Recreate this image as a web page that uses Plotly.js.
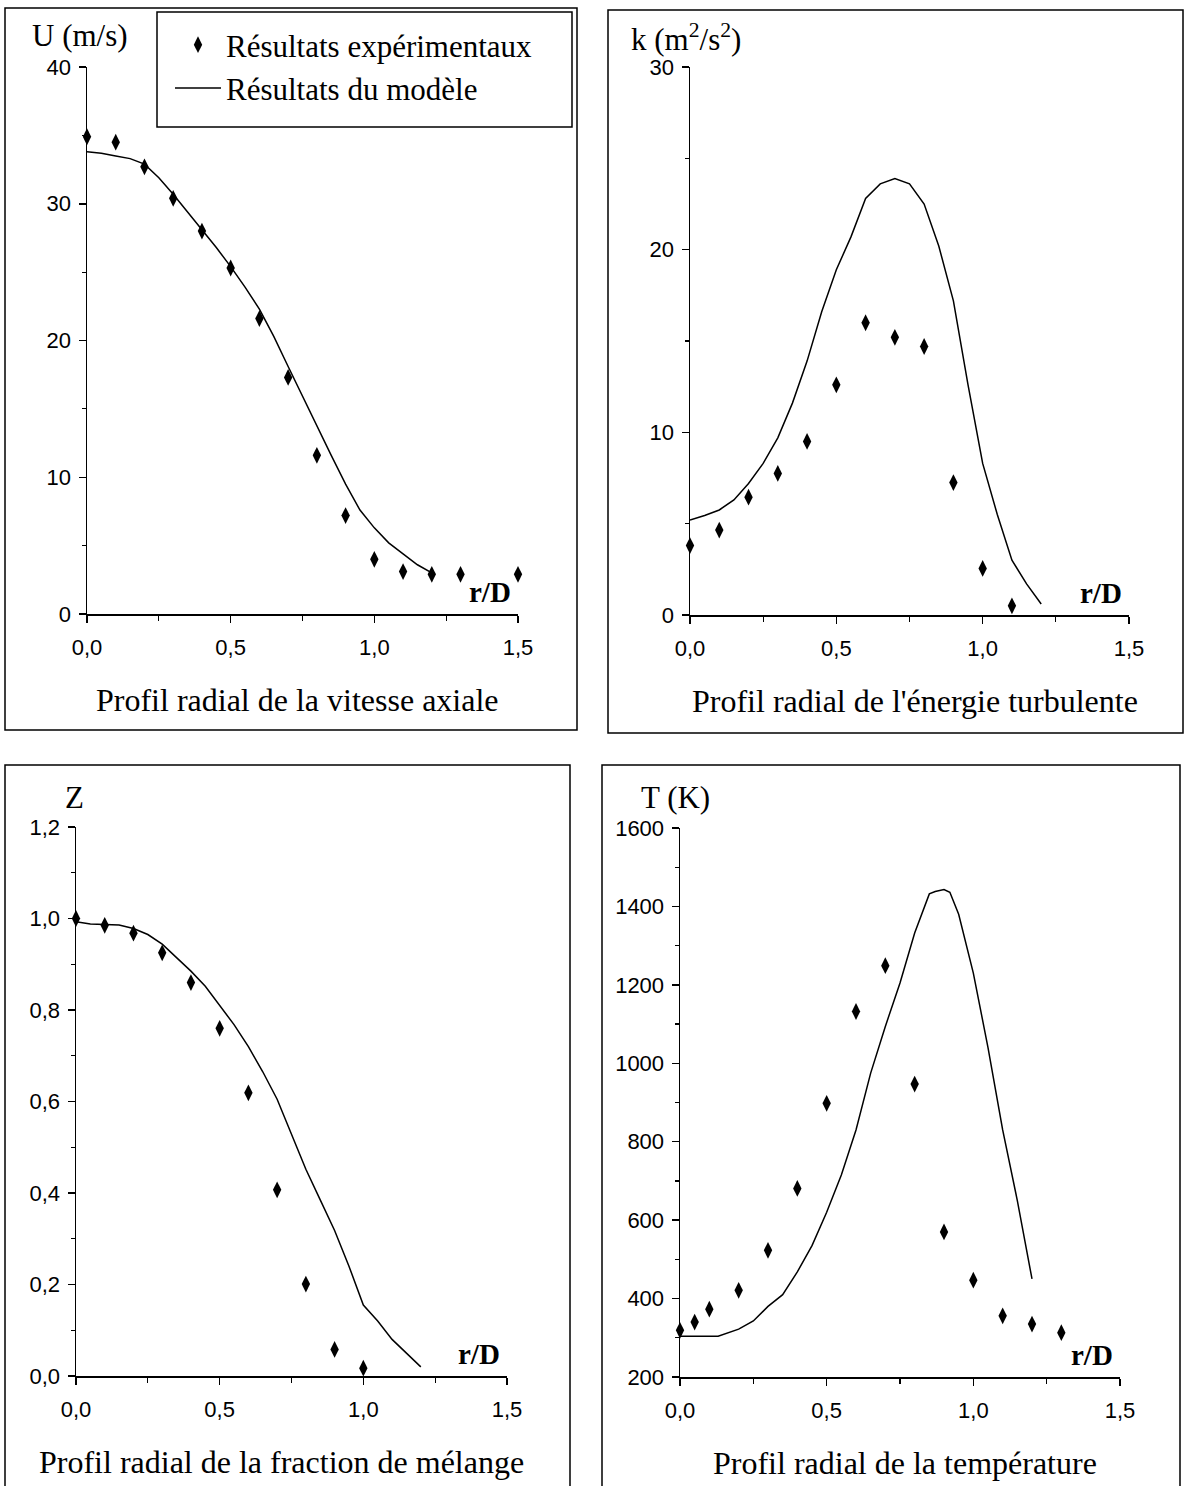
<!DOCTYPE html>
<html><head><meta charset="utf-8">
<script src="https://cdn.plot.ly/plotly-3.0.1.min.js"></script>
<style>html,body{margin:0;padding:0;background:#fff}</style>
</head><body><div id="chart" style="width:1187px;height:1486px"></div>
<script>
// ---- Data ----
const uExpR = [0, 0.1, 0.2, 0.3, 0.4, 0.5, 0.6, 0.7, 0.8, 0.9, 1.0, 1.1, 1.2, 1.3, 1.5];
const uExp  = [34.9, 34.5, 32.7, 30.4, 28.0, 25.3, 21.6, 17.3, 11.6, 7.2, 4.0, 3.1, 2.9, 2.9, 2.9];
const uModR = [0, 0.05, 0.1, 0.15, 0.2, 0.25, 0.3, 0.35, 0.4, 0.45, 0.5, 0.55, 0.6, 0.65, 0.7, 0.75, 0.8, 0.85, 0.9, 0.95, 1.0, 1.05, 1.1, 1.15, 1.2];
const uMod  = [33.8, 33.7, 33.5, 33.3, 32.9, 31.9, 30.7, 29.4, 28.1, 26.8, 25.4, 23.9, 22.3, 20.3, 18.1, 15.9, 13.7, 11.6, 9.5, 7.6, 6.3, 5.2, 4.4, 3.6, 3.0];

const kExpR = [0, 0.1, 0.2, 0.3, 0.4, 0.5, 0.6, 0.7, 0.8, 0.9, 1.0, 1.1];
const kExp  = [3.8, 4.65, 6.45, 7.75, 9.5, 12.6, 16.0, 15.2, 14.7, 7.25, 2.55, 0.5];
const kModR = [0, 0.05, 0.1, 0.15, 0.2, 0.25, 0.3, 0.35, 0.4, 0.45, 0.5, 0.55, 0.6, 0.65, 0.7, 0.75, 0.8, 0.85, 0.9, 0.95, 1.0, 1.05, 1.1, 1.15, 1.2];
const kMod  = [5.2, 5.45, 5.75, 6.3, 7.2, 8.3, 9.7, 11.6, 13.9, 16.6, 18.9, 20.7, 22.8, 23.6, 23.9, 23.6, 22.5, 20.2, 17.2, 12.6, 8.3, 5.5, 3.0, 1.7, 0.6];

const zExpR = [0, 0.1, 0.2, 0.3, 0.4, 0.5, 0.6, 0.7, 0.8, 0.9, 1.0];
const zExp  = [1.0, 0.985, 0.968, 0.925, 0.86, 0.76, 0.619, 0.407, 0.201, 0.058, 0.017];
const zModR = [0, 0.05, 0.1, 0.15, 0.2, 0.25, 0.3, 0.35, 0.4, 0.45, 0.5, 0.55, 0.6, 0.65, 0.7, 0.75, 0.8, 0.85, 0.9, 0.95, 1.0, 1.05, 1.1, 1.15, 1.2];
const zMod  = [0.993, 0.988, 0.987, 0.986, 0.978, 0.965, 0.944, 0.915, 0.885, 0.852, 0.81, 0.768, 0.72, 0.665, 0.605, 0.53, 0.452, 0.385, 0.318, 0.24, 0.155, 0.12, 0.08, 0.05, 0.02];

const tExpR = [0, 0.05, 0.1, 0.2, 0.3, 0.4, 0.5, 0.6, 0.7, 0.8, 0.9, 1.0, 1.1, 1.2, 1.3];
const tExp  = [319, 340, 373, 421, 523, 681, 898, 1132, 1249, 947, 570, 447, 356, 335, 313];
const tModR = [0, 0.05, 0.1, 0.13, 0.2, 0.25, 0.3, 0.35, 0.4, 0.45, 0.5, 0.55, 0.6, 0.65, 0.7, 0.75, 0.8, 0.83, 0.85, 0.87, 0.9, 0.92, 0.95, 1.0, 1.05, 1.1, 1.15, 1.2];
const tMod  = [304, 304, 304, 304, 322, 343, 380, 410, 468, 535, 620, 715, 830, 975, 1094, 1205, 1332, 1390, 1432, 1438, 1443, 1436, 1380, 1230, 1040, 830, 650, 450];

const xTickVals = [0, 0.5, 1.0, 1.5];
const xTickText = ['0,0', '0,5', '1,0', '1,5'];
const panelTitles = ['Profil radial de la vitesse axiale', "Profil radial de l'énergie turbulente", 'Profil radial de la fraction de mélange', 'Profil radial de la température'];
const yLabels = ['U (m/s)', 'k (m<sup>2</sup>/s<sup>2</sup>)', 'Z', 'T (K)'];
const legendNames = ['Résultats expérimentaux', 'Résultats du modèle'];

// ---- Layout helpers ----
const W = 1187, H = 1486;
const px = x => x / W;
const py = y => 1 - y / H;
const SERIF = 'Liberation Serif, Times New Roman, serif';
const SANS = 'Liberation Sans, Arial, sans-serif';

const panels = [
  {x0: 87, x1: 518, yb: 614, yt: 67, yr: [0, 40], yd: 10, ym: 5, fmt: 'd', box: [5, 577, 8, 730], tc: 298, lc: 80, ly: 36},
  {x0: 690, x1: 1129, yb: 615, yt: 67, yr: [0, 30], yd: 10, ym: 5, fmt: 'd', box: [608, 1183, 10, 733], tc: 915, lc: 686, ly: 38},
  {x0: 76, x1: 507, yb: 1376, yt: 827, yr: [0, 1.2], yd: 0.2, ym: 0.1, fmt: '.1f', box: [5, 570, 765, 1495], tc: 281, lc: 74, ly: 797},
  {x0: 680, x1: 1120, yb: 1377, yt: 828, yr: [200, 1600], yd: 200, ym: 100, fmt: 'd', box: [602, 1180, 765, 1495], tc: 905, lc: 675, ly: 797}
];

const series = [
  [uExpR, uExp, uModR, uMod],
  [kExpR, kExp, kModR, kMod],
  [zExpR, zExp, zModR, zMod],
  [tExpR, tExp, tModR, tMod]
];

const data = [];
const layout = {
  width: W, height: H,
  margin: {l: 0, r: 0, t: 0, b: 0},
  paper_bgcolor: '#fff', plot_bgcolor: 'rgba(0,0,0,0)',
  separators: ', ',
  showlegend: true,
  legend: {
    x: px(170), y: py(18), xanchor: 'left', yanchor: 'top',
    bgcolor: 'rgba(0,0,0,0)', borderwidth: 0,
    font: {family: SERIF, size: 31, color: '#000'},
    tracegroupgap: 0, itemwidth: 46
  },
  shapes: [], annotations: []
};

panels.forEach((p, i) => {
  const n = i + 1;
  const xa = 'x' + (n === 1 ? '' : n), ya = 'y' + (n === 1 ? '' : n);
  const s = series[i];
  data.push({
    x: s[0], y: s[1], xaxis: xa, yaxis: ya, type: 'scatter', mode: 'markers',
    name: legendNames[0], showlegend: i === 0, cliponaxis: false,
    marker: {symbol: 'diamond-tall', size: 12, color: '#000'}
  });
  data.push({
    x: s[2], y: s[3], xaxis: xa, yaxis: ya, type: 'scatter', mode: 'lines',
    name: legendNames[1], showlegend: i === 0, cliponaxis: false,
    line: {color: '#000', width: 1.5}
  });
  const axCommon = {
    showgrid: false, zeroline: false, showline: true, linecolor: '#000', linewidth: 1.5,
    ticks: 'outside', tickcolor: '#000', tickwidth: 1.5, ticklen: 7,
    tickfont: {family: SANS, size: 22, color: '#000'}, fixedrange: true
  };
  layout['xaxis' + (n === 1 ? '' : n)] = Object.assign({}, axCommon, {
    domain: [px(p.x0), px(p.x1)], anchor: ya, range: [0, 1.5],
    tickmode: 'array', tickvals: xTickVals, ticktext: xTickText,
    ticklabelstandoff: 6,
    minor: {dtick: 0.25, tick0: 0, ticks: 'outside', ticklen: 5, tickwidth: 1.2, tickcolor: '#000'}
  });
  layout['yaxis' + (n === 1 ? '' : n)] = Object.assign({}, axCommon, {
    domain: [py(p.yb), py(p.yt)], anchor: xa, range: p.yr,
    dtick: p.yd, tick0: p.yr[0], tickformat: p.fmt, ticklabelstandoff: 3,
    minor: {dtick: p.ym, tick0: p.yr[0], ticks: 'outside', ticklen: 4, tickwidth: 1.2, tickcolor: '#000'}
  });
  // panel frame
  layout.shapes.push({type: 'rect', xref: 'paper', yref: 'paper',
    x0: px(p.box[0]), x1: px(p.box[1]), y0: py(p.box[3]), y1: py(p.box[2]),
    line: {color: '#000', width: 1.5}, fillcolor: 'rgba(0,0,0,0)'});
  // panel title
  layout.annotations.push({xref: 'paper', yref: 'paper', x: px(p.tc), y: py(p.yb + 86),
    text: panelTitles[i], showarrow: false, xanchor: 'center', yanchor: 'middle',
    font: {family: SERIF, size: 32, color: '#000'}});
  // y label
  layout.annotations.push({xref: 'paper', yref: 'paper', x: px(p.lc), y: py(p.ly),
    text: yLabels[i], showarrow: false, xanchor: 'center', yanchor: 'middle',
    font: {family: SERIF, size: 31, color: '#000'}});
  // r/D label
  layout.annotations.push({xref: 'paper', yref: 'paper', x: px(p.x1 - 5), y: py(p.yb - 22),
    text: '<b>r/D</b>', showarrow: false, xanchor: 'right', yanchor: 'middle',
    font: {family: SERIF, size: 29, color: '#000'}});
});

// legend frame (panel 1)
layout.shapes.push({type: 'rect', xref: 'paper', yref: 'paper',
  x0: px(157), x1: px(572), y0: py(127), y1: py(12),
  line: {color: '#000', width: 1.5}, fillcolor: 'rgba(0,0,0,0)'});

Plotly.newPlot('chart', data, layout, {displayModeBar: false, staticPlot: true});
</script>
</body></html>
